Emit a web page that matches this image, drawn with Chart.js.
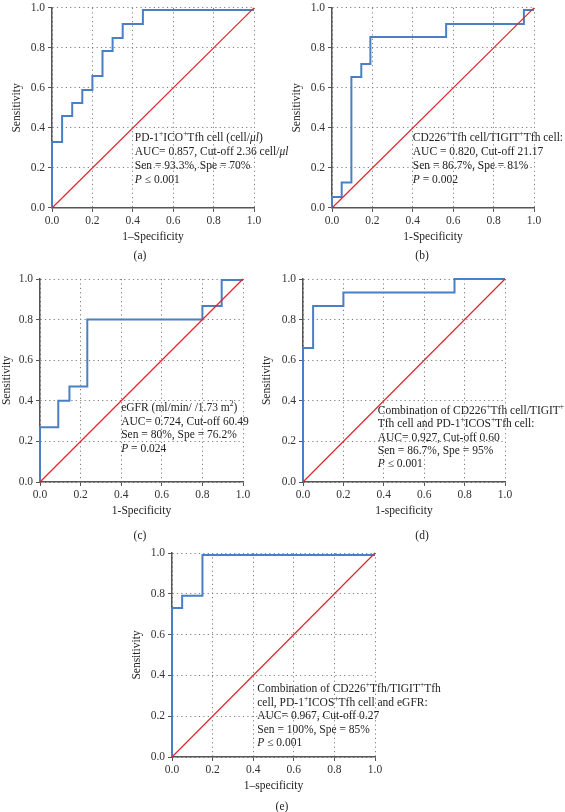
<!DOCTYPE html>
<html><head><meta charset="utf-8">
<script src="https://cdn.jsdelivr.net/npm/chart.js@4/dist/chart.umd.min.js"></script>
<style>
html,body{margin:0;padding:0;background:#fff;}
#wrap{position:relative;width:565px;height:812px;overflow:hidden;}
canvas{position:absolute;left:0;top:0;}
</style></head><body><div id="wrap">
<canvas id="ca" width="565" height="812"></canvas>
<canvas id="cb" width="565" height="812"></canvas>
<canvas id="cc" width="565" height="812"></canvas>
<canvas id="cd" width="565" height="812"></canvas>
<canvas id="ce" width="565" height="812"></canvas>
</div>
<script>
// ---- data ----
const tickValues = [0, 0.2, 0.4, 0.6, 0.8, 1.0];
const diagX = [0, 1];
const diagY = [0, 1];

const aFpr = [0, 0, 0.05, 0.10, 0.15, 0.20, 0.25, 0.30, 0.35, 0.45, 1.0];
const aTpr = [0, 0.33, 0.46, 0.525, 0.59, 0.66, 0.785, 0.85, 0.92, 0.99, 0.99];

const bFpr = [0, 0, 0.048, 0.096, 0.145, 0.19, 0.565, 0.95, 1.0];
const bTpr = [0, 0.055, 0.128, 0.655, 0.72, 0.855, 0.92, 0.99, 0.99];

const cFpr = [0, 0, 0.09, 0.145, 0.233, 0.80, 0.895, 1.0];
const cTpr = [0, 0.27, 0.40, 0.47, 0.80, 0.867, 0.995, 0.995];

const dFpr = [0, 0, 0.05, 0.20, 0.75, 1.0];
const dTpr = [0, 0.66, 0.867, 0.933, 1.0, 1.0];

const eFpr = [0, 0, 0.05, 0.15, 1.0];
const eTpr = [0, 0.73, 0.79, 0.99, 0.99];

const aNote = ["PD-1^+^ICO^+^Tfh cell (cell/_μl_)", "AUC= 0.857, Cut-off 2.36 cell/_μl_", "Sen = 93.3%, Spe = 70%", "_P_ ≤ 0.001"];
const bNote = ["CD226^+^Tfh cell/TIGIT^+^Tfh cell:", "AUC = 0.820, Cut-off 21.17", "Sen = 86.7%, Spe = 81%", "_P_ = 0.002"];
const cNote = ["eGFR (ml/min/ /1.73 m^2^)", "AUC= 0.724, Cut-off 60.49", "Sen = 80%, Spe = 76.2%", "_P_ = 0.024"];
const dNote = ["Combination of CD226^+^Tfh cell/TIGIT^+^", "Tfh cell and PD-1^+^ICOS^+^Tfh cell:", "AUC= 0.927, Cut-off 0.60", "Sen = 86.7%, Spe = 95%", "_P_ ≤ 0.001"];
const eNote = ["Combination of CD226^+^Tfh/TIGIT^+^Tfh", "cell, PD-1^+^ICOS^+^Tfh cell and eGFR:", "AUC= 0.967, Cut-off 0.27", "Sen = 100%, Spe = 85%", "_P_ ≤ 0.001"];

// ---- drawing ----
const FONT = "'Liberation Serif', 'Times New Roman', serif";
const FS = 11.5;

function parseLine(s) {
  return s.split(/(\^[^^]*\^|_[^_]*_)/).filter(t => t.length).map(t => {
    if (t[0] === '^') return {t: t.slice(1, -1), sup: true};
    if (t[0] === '_') return {t: t.slice(1, -1), it: true};
    return {t: t};
  });
}

function notePlugin(cfg) {
  return {
    id: 'note_' + cfg.caption,
    afterDraw(chart) {
      const ctx = chart.ctx;
      const xs = chart.scales.x, ys = chart.scales.y;
      ctx.save();
      ctx.fillStyle = '#222';
      ctx.textBaseline = 'middle';
      ctx.textAlign = 'left';
      const x0 = xs.getPixelForValue(cfg.nx);
      const y0 = ys.getPixelForValue(cfg.ny);
      cfg.lines.forEach((line, i) => {
        let x = x0;
        const y = y0 + i * cfg.lh;
        parseLine(line).forEach(seg => {
          const size = seg.sup ? 7.5 : FS;
          ctx.font = (seg.it ? 'italic ' : '') + size + 'px ' + FONT;
          ctx.fillText(seg.t, x, seg.sup ? y - 4 : y);
          x += ctx.measureText(seg.t).width;
        });
      });
      ctx.textAlign = 'center';
      ctx.font = FS + 'px ' + FONT;
      ctx.fillText(cfg.caption, cfg.capX, cfg.capY);
      ctx.restore();
    }
  };
}

function axis(extra) {
  return Object.assign({
    type: 'linear', min: 0, max: 1,
    afterBuildTicks: s => { s.ticks = tickValues.map(v => ({value: v})); },
    grid: {color: '#7d7d7d', lineWidth: 1, drawTicks: true, tickLength: 4, tickColor: '#555', tickWidth: 1},
    border: {display: true, color: '#555', width: 1.5, dash: [1.2, 3.2]}
  }, extra);
}

function makeChart(id, fpr, tpr, box, xTitle, lines, nx, ny, lh, caption, capX, capY) {
  const L = box[0], R = box[1], T = box[2], B = box[3], titleX = box[4];
  const padLeft = Math.max(0, titleX - 6.9);
  const yW = L - padLeft;
  const xH = 36;
  const roc = fpr.map((v, i) => ({x: v, y: tpr[i]}));
  const diag = diagX.map((v, i) => ({x: v, y: diagY[i]}));
  new Chart(document.getElementById(id), {
    type: 'line',
    data: {datasets: [
      {data: diag, borderColor: '#e3242b', borderWidth: 1.2, pointRadius: 0, tension: 0, clip: false},
      {data: roc, borderColor: '#4a7fc5', borderWidth: 2, pointRadius: 0, stepped: true, tension: 0, clip: false}
    ]},
    options: {
      responsive: false, animation: false, devicePixelRatio: 1,
      layout: {padding: {left: padLeft, right: 565 - R, top: T, bottom: 812 - B - xH}},
      plugins: {legend: {display: false}, tooltip: {enabled: false}},
      scales: {
        x: axis({
          afterFit: s => { s.height = xH; },
          ticks: {color: '#333', font: {family: FONT, size: FS}, padding: 2, callback: v => v.toFixed(1), maxRotation: 0, autoSkip: false},
          title: {display: true, text: xTitle, color: '#222', font: {family: FONT, size: FS}, padding: 0}
        }),
        y: axis({
          afterFit: s => { s.width = yW; },
          ticks: {color: '#333', font: {family: FONT, size: FS, lineHeight: 0.85}, padding: 3, callback: v => v.toFixed(1), autoSkip: false},
          title: {display: true, text: 'Sensitivity', color: '#222', font: {family: FONT, size: FS}, padding: 0}
        })
      }
    },
    plugins: [notePlugin({lines, nx, ny, lh, caption, capX, capY})]
  });
}

makeChart('ca', aFpr, aTpr, [52, 254, 5, 208, 17], '1–Specificity', aNote, 0.41, 0.35, 14, '(a)', 140, 256);
makeChart('cb', bFpr, bTpr, [332, 534, 5, 208, 297], '1-Specificity', bNote, 0.40, 0.35, 14, '(b)', 422, 256);
makeChart('cc', cFpr, cTpr, [40, 243, 279, 482, 6], '1-Specificity', cNote, 0.40, 0.365, 13.7, '(c)', 140, 536);
makeChart('cd', dFpr, dTpr, [303, 505, 279, 482, 267], '1-specificity', dNote, 0.37, 0.35, 13.3, '(d)', 422, 536);
makeChart('ce', eFpr, eTpr, [172, 375, 553, 757, 137], '1–specificity', eNote, 0.42, 0.333, 13.5, '(e)', 282, 807);
</script>
</body></html>
